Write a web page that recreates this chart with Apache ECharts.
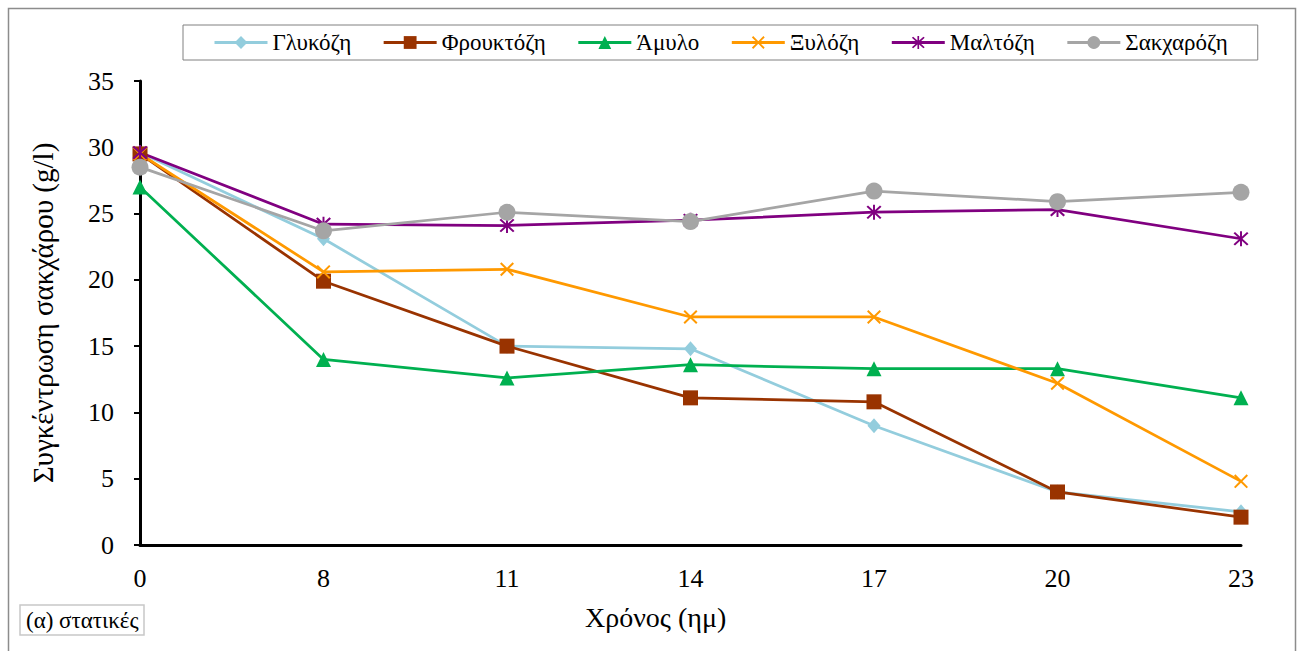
<!DOCTYPE html>
<html>
<head>
<meta charset="utf-8">
<title>Συγκέντρωση σακχάρου</title>
<script src="https://cdn.jsdelivr.net/npm/echarts@6/dist/echarts.min.js"></script>
<style>
  html, body { margin: 0; padding: 0; background: #fff; }
  #chart { width: 1301px; height: 651px; }
</style>
</head>
<body>
<div id="chart"></div>
<script>
// Sampling days
const days = ['0', '8', '11', '14', '17', '20', '23'];

// Sugar concentration (g/l) per carbon source
const glucose   = [29.6, 23.1, 15.0, 14.8, 9.0, 4.0, 2.5];
const fructose  = [29.5, 19.9, 15.0, 11.1, 10.8, 4.0, 2.1];
const starch    = [27.0, 14.0, 12.6, 13.6, 13.3, 13.3, 11.1];
const xylose    = [29.5, 20.6, 20.8, 17.2, 17.2, 12.2, 4.8];
const maltose   = [29.6, 24.2, 24.1, 24.5, 25.1, 25.3, 23.1];
const sucrose   = [28.5, 23.7, 25.1, 24.4, 26.7, 25.9, 26.6];

const names = ['Γλυκόζη', 'Φρουκτόζη', 'Άμυλο', 'Ξυλόζη', 'Μαλτόζη', 'Σακχαρόζη'];
const yTicks = { min: 0, max: 35, interval: 5 };

const FONT = '"Liberation Serif", "DejaVu Serif", serif';

// Marker shapes not built into ECharts
const crossPath = 'path://M0,1L1,0L5,4L9,0L10,1L6,5L10,9L9,10L5,6L1,10L0,9L4,5Z';
const starPath  = 'path://M0,1L1,0L5,4L9,0L10,1L6,5L10,9L9,10L5,6L1,10L0,9L4,5Z M4.35,-0.5L5.65,-0.5L5.65,10.5L4.35,10.5Z';

function lineSeries(name, data, color, symbol, size) {
  return {
    name: name,
    type: 'line',
    data: data,
    symbol: symbol,
    symbolSize: size,
    showAllSymbol: true,
    lineStyle: { color: color, width: 2.75 },
    itemStyle: { color: color, borderWidth: 0 },
    emphasis: { disabled: true },
    animation: false
  };
}

const chart = echarts.init(document.getElementById('chart'), null, { renderer: 'svg' });

chart.setOption({
  backgroundColor: '#ffffff',
  animation: false,
  textStyle: { fontFamily: FONT, color: '#000' },
  title: {
    text: '(α) στατικές',
    left: 20,
    top: 605,
    padding: [4, 6, 3, 6],
    borderColor: '#c8c8c8',
    borderWidth: 1.5,
    textStyle: { fontFamily: FONT, fontSize: 23, fontWeight: 'normal', color: '#000' }
  },
  legend: {
    left: 183,
    top: 25,
    padding: [6, 30],
    itemGap: 31,
    itemWidth: 53,
    itemHeight: 16,
    borderColor: '#808080',
    borderWidth: 1,
    data: names,
    lineStyle: { width: 3 },
    textStyle: { fontFamily: FONT, fontSize: 23, color: '#000' }
  },
  grid: { left: 140, right: 60, top: 81, bottom: 106 },
  xAxis: {
    type: 'category',
    data: days,
    boundaryGap: false,
    axisLine: { lineStyle: { color: '#000', width: 3 } },
    axisTick: { show: false },
    axisLabel: { fontFamily: FONT, fontSize: 26, color: '#000', margin: 20 },
    splitLine: { show: false }
  },
  yAxis: {
    type: 'value',
    min: yTicks.min,
    max: yTicks.max,
    interval: yTicks.interval,
    name: 'Συγκέντρωση σακχάρου (g/l)',
    nameLocation: 'middle',
    nameGap: 83,
    nameTextStyle: { fontFamily: FONT, fontSize: 29, color: '#000' },
    axisLine: { show: true, lineStyle: { color: '#000', width: 3 } },
    axisTick: { show: true, inside: false, length: 6, lineStyle: { color: '#000', width: 2 } },
    axisLabel: { fontFamily: FONT, fontSize: 26, color: '#000', margin: 26 },
    splitLine: { show: false }
  },
  graphic: [
    {
      type: 'rect',
      left: 6, top: 6,
      shape: { width: 1287, height: 700 },
      style: { fill: 'none', stroke: '#8c8c8c', lineWidth: 1.5 },
      silent: true
    },
    {
      type: 'text',
      left: 585,
      top: 603,
      style: { text: 'Χρόνος (ημ)', font: '28px ' + FONT, fill: '#000' }
    }
  ],
  series: [
    lineSeries(names[0], glucose,  '#93CDDD', 'diamond', [13, 15]),
    lineSeries(names[1], fructose, '#993300', 'rect', 15),
    lineSeries(names[2], starch,   '#00B050', 'triangle', 15),
    lineSeries(names[3], xylose,   '#FF9900', crossPath, 14),
    lineSeries(names[4], maltose,  '#800080', starPath, 15),
    lineSeries(names[5], sucrose,  '#A5A5A5', 'circle', 17)
  ]
});
</script>
</body>
</html>
